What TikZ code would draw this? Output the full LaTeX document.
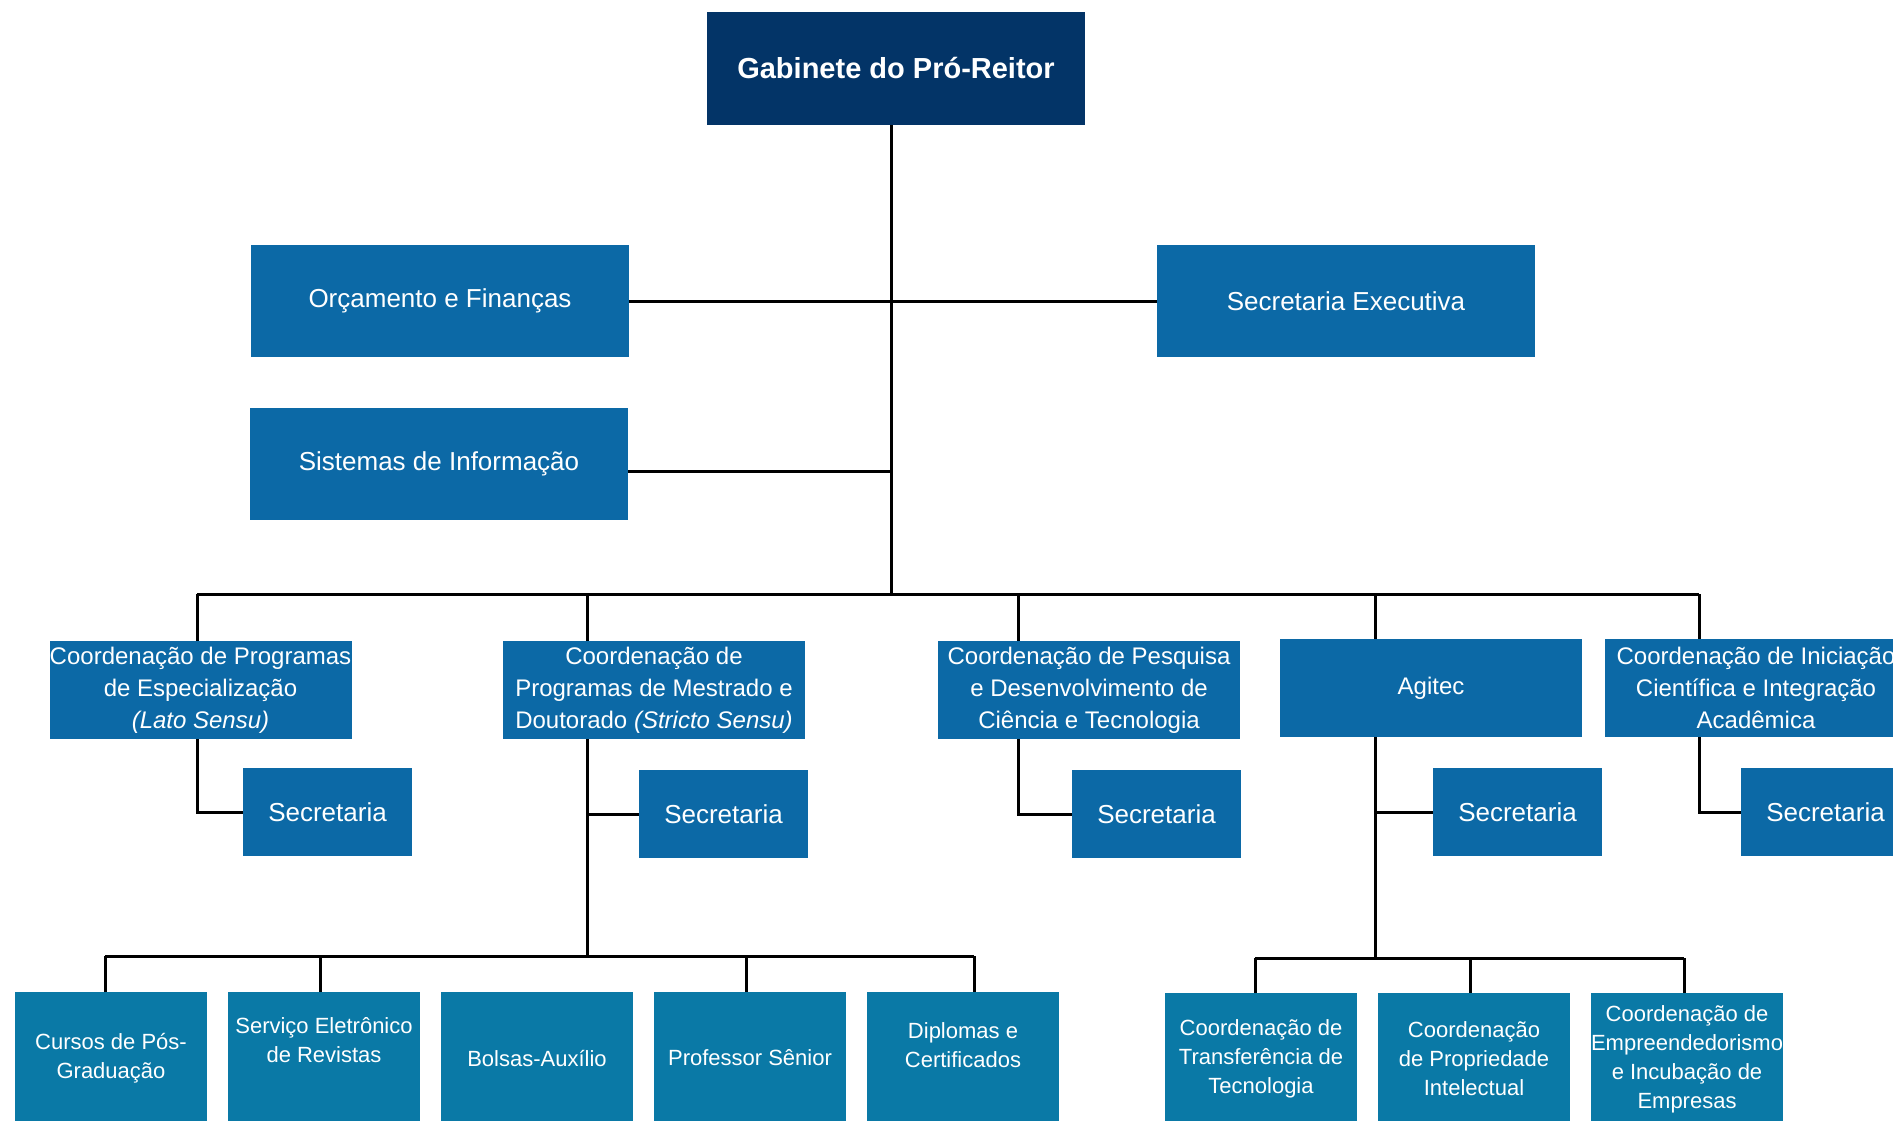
\documentclass[tikz,border=0pt]{standalone}
\usepackage{fontspec}
\setmainfont{Liberation Sans}
\definecolor{gabNavy}{HTML}{033467}
\definecolor{orgBlue}{HTML}{0C69A6}
\definecolor{orgTeal}{HTML}{0A79A6}
\tikzset{
  orgTitle/.style={fill=gabNavy, text=white, font=\fontsize{14.5}{17}\selectfont\bfseries, align=center, inner sep=0pt, minimum width=189pt, minimum height=56.5pt},
  orgUnit/.style={fill=orgBlue, text=white, font=\fontsize{13}{16}\selectfont, align=center, inner sep=0pt, minimum width=189pt, minimum height=56pt},
  orgCoord/.style={orgUnit, font=\fontsize{12}{16}\selectfont, minimum width=151pt, minimum height=49pt},
  orgSec/.style={orgUnit, minimum width=84.5pt, minimum height=44pt},
  orgLeaf/.style={fill=orgTeal, text=white, font=\fontsize{11}{14.5}\selectfont, align=center, inner sep=0pt, minimum width=96pt, minimum height=66pt},
  orgLine/.style={line width=1.5pt}
}

\begin{document}
\begin{tikzpicture}[x=0.5pt, y=-0.5pt]
      \useasboundingbox (0,0) rectangle (1893,1120);

      \node[orgTitle] (gab) at (896,68.5) {Gabinete do Pró-Reitor};
      \node[orgUnit] (orc) at (440,301) {Orçamento e Finanças};
      \node[orgUnit] (secExec) at (1346,301) {Secretaria Executiva};
      \node[orgUnit] (sis) at (439,463.5) {Sistemas de Informação};

      \coordinate (hub) at (891,594);
      \coordinate (hubSis) at (891,471);
      \draw[orgLine] (gab.south -| hub) -- (hub);
      \draw[orgLine] (orc.east) -- (secExec.west);
      \draw[orgLine] (sis.east |- hubSis) -- (hubSis);

      % coordenações
      \node[orgCoord] (cpe) at (200.5,690) {Coordenação de Programas\\de Especialização\\\textit{(Lato Sensu)}};
      \node[orgCoord] (cpmd) at (654,690) {Coordenação de\\Programas de Mestrado e\\Doutorado \textit{(Stricto Sensu)}};
      \node[orgCoord] (cpd) at (1089,690) {Coordenação de Pesquisa\\e Desenvolvimento de\\Ciência e Tecnologia};
      \node[orgCoord] (agitec) at (1431,688) {Agitec};
      \node[orgCoord] (cic) at (1756,688) {Coordenação de Iniciação\\Científica e Integração\\Acadêmica};

      \coordinate (dCpe) at (197,594);
      \coordinate (dCpmd) at (587,594);
      \coordinate (dCpd) at (1018,594);
      \coordinate (dAgitec) at (1375,594);
      \coordinate (dCic) at (1699,594);
      \draw[orgLine] (dCpe) -- (dCic);
      \draw[orgLine] (dCpe) -- (dCpe |- cpe.north);
      \draw[orgLine] (dCpmd) -- (dCpmd |- cpmd.north);
      \draw[orgLine] (dCpd) -- (dCpd |- cpd.north);
      \draw[orgLine] (dAgitec) -- (dAgitec |- agitec.north);
      \draw[orgLine] (dCic) -- (dCic |- cic.north);

      % secretarias
      \node[orgSec] (secCpe) at (327.5,812) {Secretaria};
      \node[orgSec] (secCpmd) at (723.5,814) {Secretaria};
      \node[orgSec] (secCpd) at (1156.5,814) {Secretaria};
      \node[orgSec] (secAgitec) at (1517.5,812) {Secretaria};
      \node[orgSec] (secCic) at (1825.5,812) {Secretaria};
      \draw[orgLine] (dCpe |- cpe.south) |- (secCpe.west);
      \draw[orgLine] (dCpd |- cpd.south) |- (secCpd.west);
      \draw[orgLine] (dCic |- cic.south) |- (secCic.west);
      \draw[orgLine] (secCpmd.west) -- (secCpmd.west -| dCpmd);
      \draw[orgLine] (secAgitec.west) -- (secAgitec.west -| dAgitec);

      % ramo pós-graduação
      \coordinate (hubPos) at (587,956);
      \coordinate (lCursos) at (105,956);
      \coordinate (lServico) at (320,956);
      \coordinate (lProf) at (746,956);
      \coordinate (lDiplomas) at (974,956);
      \node[orgLeaf] (cursos) at (111,1058) {Cursos de Pós-\\Graduação};
      \node[orgLeaf] (servico) at (324,1058) {Serviço Eletrônico\\de Revistas\\[3.5pt]};
      \node[orgLeaf] (bolsas) at (537,1058) {Bolsas-Auxílio};
      \node[orgLeaf] (prof) at (750,1058) {Professor Sênior};
      \node[orgLeaf] (diplomas) at (963,1058) {Diplomas e\\Certificados\\[-1.5pt]};
      \draw[orgLine] (dCpmd |- cpmd.south) -- (hubPos);
      \draw[orgLine] (lCursos) -- (lDiplomas);
      \draw[orgLine] (lCursos) -- (lCursos |- cursos.north);
      \draw[orgLine] (lServico) -- (lServico |- servico.north);
      \draw[orgLine] (lProf) -- (lProf |- prof.north);
      \draw[orgLine] (lDiplomas) -- (lDiplomas |- diplomas.north);

      % ramo agitec
      \coordinate (hubAgitec) at (1375,958);
      \coordinate (lTransf) at (1255,958);
      \coordinate (lPropr) at (1470,958);
      \coordinate (lEmpr) at (1684,958);
      \node[orgLeaf] (transf) at (1261,1059) {Coordenação de\\Transferência de\\Tecnologia};
      \node[orgLeaf] (propr) at (1474,1059) {Coordenação\\de Propriedade\\Intelectual};
      \node[orgLeaf] (empr) at (1687,1059) {Coordenação de\\Empreendedorismo\\e Incubação de\\Empresas};
      \draw[orgLine] (dAgitec |- agitec.south) -- (hubAgitec);
      \draw[orgLine] (lTransf) -- (lEmpr);
      \draw[orgLine] (lTransf) -- (lTransf |- transf.north);
      \draw[orgLine] (lPropr) -- (lPropr |- propr.north);
      \draw[orgLine] (lEmpr) -- (lEmpr |- empr.north);
\end{tikzpicture}
\end{document}
